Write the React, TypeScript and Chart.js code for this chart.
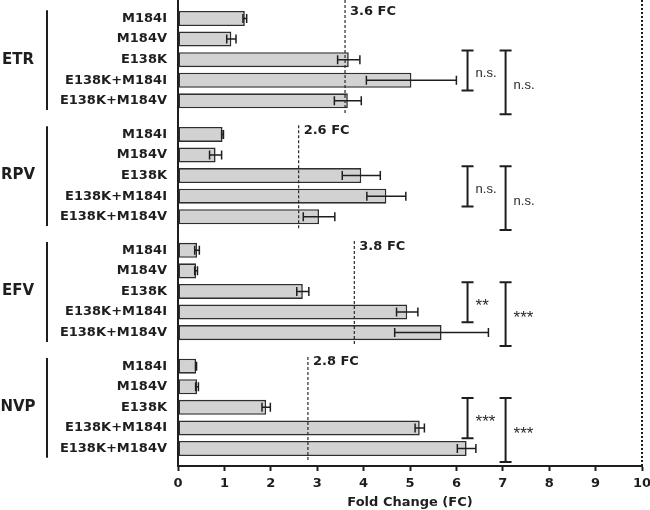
import React, { useEffect, useRef } from "react";
import { Chart, registerables } from "chart.js";

Chart.register(...registerables);

// ---------- data ----------
const groups = ["ETR", "RPV", "EFV", "NVP"];
const variants = ["M184I", "M184V", "E138K", "E138K+M184I", "E138K+M184V"];

const etrValues = [1.44, 1.15, 3.68, 5.03, 3.66];
const etrErrors = [0.04, 0.1, 0.24, 0.97, 0.29];
const rpvValues = [0.96, 0.81, 3.95, 4.49, 3.04];
const rpvErrors = [0.02, 0.13, 0.41, 0.42, 0.34];
const efvValues = [0.41, 0.39, 2.69, 4.94, 5.68];
const efvErrors = [0.05, 0.03, 0.13, 0.23, 1.01];
const nvpValues = [0.39, 0.41, 1.9, 5.21, 6.22];
const nvpErrors = [0.01, 0.03, 0.09, 0.1, 0.2];

const thresholds = [3.6, 2.6, 3.8, 2.8];
const innerSig = ["n.s.", "n.s.", "**", "***"];
const outerSig = ["n.s.", "n.s.", "***", "***"];
const innerBracketX = 6.24;
const outerBracketX = 7.06;

const X_MIN = 0;
const X_MAX = 10;

// ---------- layout helpers ----------
const GROUP_STRIDE = 5.63; // slots between first bars of consecutive groups
const Y_MIN = -0.9;
const Y_MAX = 3 * GROUP_STRIDE + 4 + 0.85;

const allValues = [etrValues, rpvValues, efvValues, nvpValues];
const allErrors = [etrErrors, rpvErrors, efvErrors, nvpErrors];

const pos = (g: number, i: number) => g * GROUP_STRIDE + i;

const barData: { x: number; y: number }[] = [];
const errData: number[] = [];
const tickPositions: number[] = [];
const tickLabels: string[] = [];
groups.forEach((_, g) => {
  variants.forEach((v, i) => {
    barData.push({ x: allValues[g][i], y: pos(g, i) });
    errData.push(allErrors[g][i]);
    tickPositions.push(pos(g, i));
    tickLabels.push(v);
  });
});

const INK = "#1e1e1e";
const BOLD13 = "bold 13px 'DejaVu Sans'";

const annotationPlugin = {
  id: "annotations",
  afterDatasetsDraw(chart: any) {
    const ctx = chart.ctx as CanvasRenderingContext2D;
    const xs = chart.scales.x;
    const meta = chart.getDatasetMeta(0);
    ctx.save();
    // error bars
    ctx.strokeStyle = INK;
    ctx.lineWidth = 1.5;
    meta.data.forEach((bar: any, k: number) => {
      const v = barData[k].x;
      const e = errData[k];
      const y = bar.y;
      const x1 = xs.getPixelForValue(v - e);
      const x2 = xs.getPixelForValue(v + e);
      ctx.beginPath();
      ctx.moveTo(x1, y);
      ctx.lineTo(x2, y);
      ctx.moveTo(x1, y - 4.5);
      ctx.lineTo(x1, y + 4.5);
      ctx.moveTo(x2, y - 4.5);
      ctx.lineTo(x2, y + 4.5);
      ctx.stroke();
    });
    ctx.restore();
  },
  afterDraw(chart: any) {
    const ctx = chart.ctx as CanvasRenderingContext2D;
    const xs = chart.scales.x;
    const ys = chart.scales.y;
    const area = chart.chartArea;
    const yp = (v: number) => ys.getPixelForValue(v);
    ctx.save();

    // right dotted border at x = 10
    ctx.strokeStyle = INK;
    ctx.lineWidth = 2;
    ctx.setLineDash([2, 2]);
    const xr = xs.getPixelForValue(X_MAX);
    ctx.beginPath();
    ctx.moveTo(xr, area.top);
    ctx.lineTo(xr, area.bottom);
    ctx.stroke();

    groups.forEach((name, g) => {
      const first = pos(g, 0);
      const last = pos(g, 4);

      // threshold dashed line
      const tx = xs.getPixelForValue(thresholds[g]);
      const top = g === 0 ? area.top : yp(first - 0.45);
      ctx.setLineDash([3, 2]);
      ctx.lineWidth = 1.2;
      ctx.strokeStyle = "#2a2a2a";
      ctx.beginPath();
      ctx.moveTo(tx, top);
      ctx.lineTo(tx, yp(last + 0.65));
      ctx.stroke();
      ctx.setLineDash([]);
      ctx.fillStyle = INK;
      ctx.font = BOLD13;
      ctx.textAlign = "left";
      ctx.textBaseline = "middle";
      ctx.fillText(`${thresholds[g]} FC`, tx + 5, yp(first - (g === 0 ? 0.33 : 0.2)));

      // group label with vertical line
      ctx.lineWidth = 2;
      ctx.strokeStyle = INK;
      const gx = area.left - 131;
      ctx.beginPath();
      ctx.moveTo(gx, yp(first - 0.4));
      ctx.lineTo(gx, yp(last + 0.45));
      ctx.stroke();
      ctx.font = "bold 15px 'DejaVu Sans'";
      ctx.textAlign = "center";
      ctx.fillText(name, area.left - 160, yp(pos(g, 2)));

      // significance brackets
      const bTop = yp(pos(g, 2) - 0.45);
      const bIn = yp(pos(g, 3) + 0.5);
      const bOut = yp(pos(g, 4) + 0.65);
      const drawBracket = (xv: number, y1: number, y2: number, label: string) => {
        const bx = xs.getPixelForValue(xv);
        ctx.lineWidth = 2;
        ctx.strokeStyle = INK;
        ctx.beginPath();
        ctx.moveTo(bx, y1);
        ctx.lineTo(bx, y2);
        ctx.moveTo(bx - 6, y1);
        ctx.lineTo(bx + 6, y1);
        ctx.moveTo(bx - 6, y2);
        ctx.lineTo(bx + 6, y2);
        ctx.stroke();
        ctx.textAlign = "left";
        ctx.textBaseline = "middle";
        ctx.fillStyle = "#2a2a2a";
        const mid = (y1 + y2) / 2;
        if (label.startsWith("*")) {
          ctx.font = "17px 'Liberation Sans'";
          ctx.fillText(label, bx + 8, mid + 4);
        } else {
          ctx.font = "13px 'Liberation Sans'";
          ctx.fillText(label, bx + 8, mid + 3);
        }
      };
      drawBracket(innerBracketX, bTop, bIn, innerSig[g]);
      drawBracket(outerBracketX, bTop, bOut, outerSig[g]);
    });
    ctx.restore();
  },
};

export default function App() {
  const canvasRef = useRef<HTMLCanvasElement | null>(null);

  useEffect(() => {
    if (!canvasRef.current) return;
    const chart = new Chart(canvasRef.current, {
      type: "bar",
      data: {
        datasets: [
          {
            data: barData as any,
            backgroundColor: "#d2d2d2",
            borderColor: "#2e2e2e",
            borderWidth: 1.6,
            borderSkipped: false,
            categoryPercentage: 1,
            barPercentage: 0.73,
          },
        ],
      },
      options: {
        indexAxis: "y",
        animation: false,
        responsive: true,
        maintainAspectRatio: false,
        layout: { padding: { top: 0, right: 8, bottom: 0, left: 0 } },
        plugins: {
          legend: { display: false },
          tooltip: { enabled: false },
        },
        scales: {
          x: {
            type: "linear",
            min: X_MIN,
            max: X_MAX,
            ticks: {
              stepSize: 1,
              color: INK,
              font: { family: "'DejaVu Sans'", size: 13, weight: "bold" },
              padding: 5,
            },
            grid: {
              display: true,
              drawOnChartArea: false,
              drawTicks: true,
              tickLength: 5,
              tickColor: INK,
              tickWidth: 2,
            },
            border: { display: true, color: INK, width: 2 },
            title: {
              display: true,
              text: "Fold Change (FC)",
              color: INK,
              font: { family: "'DejaVu Sans'", size: 13, weight: "bold" },
              padding: { top: 0, bottom: 0 },
            },
            afterFit: (scale: any) => {
              scale.height = 44;
              scale.paddingLeft = 0;
              scale.paddingRight = 0;
            },
          },
          y: {
            type: "linear",
            reverse: true,
            offset: false,
            min: Y_MIN,
            max: Y_MAX,
            afterBuildTicks: (scale: any) => {
              scale.ticks = tickPositions.map((v) => ({ value: v }));
            },
            ticks: {
              autoSkip: false,
              color: INK,
              padding: 11,
              font: { family: "'DejaVu Sans'", size: 13, weight: "bold" },
              callback: (_v: any, i: number) => tickLabels[i],
            },
            grid: { display: false, drawTicks: false, offset: false },
            border: { display: true, color: INK, width: 2 },
            afterFit: (scale: any) => {
              scale.width = 178;
              scale.paddingTop = 0;
              scale.paddingBottom = 0;
            },
          },
        },
      } as any,
      plugins: [annotationPlugin],
    });
    return () => chart.destroy();
  }, []);

  return (
    <div style={{ position: "fixed", left: 0, top: 0, width: 650, height: 510 }}>
      <canvas ref={canvasRef} />
    </div>
  );
}
